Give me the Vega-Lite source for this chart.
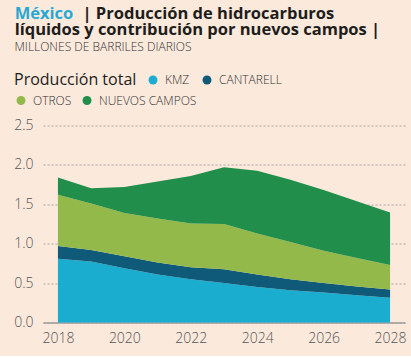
{
  "$schema": "https://vega.github.io/schema/vega-lite/v6.json",
  "width": 362,
  "height": 197,
  "padding": {"left": 13, "top": 5.5, "right": 6, "bottom": 10},
  "background": "#fbe9dc",
  "config": {"view": {"stroke": null}, "font": "Open Sans"},
  "title": {
    "text": "México",
    "subtitle": "líquidos y contribución por nuevos campos |",
    "anchor": "start",
    "frame": "bounds",
    "font": "Open Sans",
    "fontSize": 16.5,
    "fontWeight": "bold",
    "color": "#29a8d4",
    "subtitleFont": "Open Sans",
    "subtitleFontSize": 16.5,
    "subtitleFontWeight": "bold",
    "subtitleColor": "#1d1d1b",
    "subtitlePadding": -0.5,
    "offset": -32.5,
    "dx": 1
  },
  "data": {
    "values": [
      {"anio": 2018, "serie": "KMZ", "orden": 1, "valor": 0.81},
      {"anio": 2019, "serie": "KMZ", "orden": 1, "valor": 0.775},
      {"anio": 2020, "serie": "KMZ", "orden": 1, "valor": 0.69},
      {"anio": 2021, "serie": "KMZ", "orden": 1, "valor": 0.61},
      {"anio": 2022, "serie": "KMZ", "orden": 1, "valor": 0.55},
      {"anio": 2023, "serie": "KMZ", "orden": 1, "valor": 0.5},
      {"anio": 2024, "serie": "KMZ", "orden": 1, "valor": 0.45},
      {"anio": 2025, "serie": "KMZ", "orden": 1, "valor": 0.41},
      {"anio": 2026, "serie": "KMZ", "orden": 1, "valor": 0.38},
      {"anio": 2027, "serie": "KMZ", "orden": 1, "valor": 0.347},
      {"anio": 2028, "serie": "KMZ", "orden": 1, "valor": 0.313},
      {"anio": 2018, "serie": "CANTARELL", "orden": 2, "valor": 0.16},
      {"anio": 2019, "serie": "CANTARELL", "orden": 2, "valor": 0.145},
      {"anio": 2020, "serie": "CANTARELL", "orden": 2, "valor": 0.15},
      {"anio": 2021, "serie": "CANTARELL", "orden": 2, "valor": 0.15},
      {"anio": 2022, "serie": "CANTARELL", "orden": 2, "valor": 0.15},
      {"anio": 2023, "serie": "CANTARELL", "orden": 2, "valor": 0.175},
      {"anio": 2024, "serie": "CANTARELL", "orden": 2, "valor": 0.16},
      {"anio": 2025, "serie": "CANTARELL", "orden": 2, "valor": 0.14},
      {"anio": 2026, "serie": "CANTARELL", "orden": 2, "valor": 0.12},
      {"anio": 2027, "serie": "CANTARELL", "orden": 2, "valor": 0.11},
      {"anio": 2028, "serie": "CANTARELL", "orden": 2, "valor": 0.107},
      {"anio": 2018, "serie": "OTROS", "orden": 3, "valor": 0.65},
      {"anio": 2019, "serie": "OTROS", "orden": 3, "valor": 0.59},
      {"anio": 2020, "serie": "OTROS", "orden": 3, "valor": 0.55},
      {"anio": 2021, "serie": "OTROS", "orden": 3, "valor": 0.56},
      {"anio": 2022, "serie": "OTROS", "orden": 3, "valor": 0.556},
      {"anio": 2023, "serie": "OTROS", "orden": 3, "valor": 0.575},
      {"anio": 2024, "serie": "OTROS", "orden": 3, "valor": 0.52},
      {"anio": 2025, "serie": "OTROS", "orden": 3, "valor": 0.47},
      {"anio": 2026, "serie": "OTROS", "orden": 3, "valor": 0.41},
      {"anio": 2027, "serie": "OTROS", "orden": 3, "valor": 0.363},
      {"anio": 2028, "serie": "OTROS", "orden": 3, "valor": 0.31},
      {"anio": 2018, "serie": "NUEVOS CAMPOS", "orden": 4, "valor": 0.22},
      {"anio": 2019, "serie": "NUEVOS CAMPOS", "orden": 4, "valor": 0.195},
      {"anio": 2020, "serie": "NUEVOS CAMPOS", "orden": 4, "valor": 0.33},
      {"anio": 2021, "serie": "NUEVOS CAMPOS", "orden": 4, "valor": 0.47},
      {"anio": 2022, "serie": "NUEVOS CAMPOS", "orden": 4, "valor": 0.604},
      {"anio": 2023, "serie": "NUEVOS CAMPOS", "orden": 4, "valor": 0.72},
      {"anio": 2024, "serie": "NUEVOS CAMPOS", "orden": 4, "valor": 0.795},
      {"anio": 2025, "serie": "NUEVOS CAMPOS", "orden": 4, "valor": 0.79},
      {"anio": 2026, "serie": "NUEVOS CAMPOS", "orden": 4, "valor": 0.77},
      {"anio": 2027, "serie": "NUEVOS CAMPOS", "orden": 4, "valor": 0.72},
      {"anio": 2028, "serie": "NUEVOS CAMPOS", "orden": 4, "valor": 0.665}
    ]
  },
  "resolve": {"axis": {"x": "independent"}},
  "layer": [
    {
      "mark": {"type": "area"},
      "encoding": {
        "x": {
          "field": "anio",
          "type": "quantitative",
          "scale": {"domain": [2017.55, 2028.45], "nice": false, "zero": false},
          "axis": {
            "title": null,
            "orient": "bottom",
            "values": [2018, 2020, 2022, 2024, 2026, 2028],
            "format": "d",
            "grid": false,
            "ticks": false,
            "domain": true,
            "domainColor": "#9b9b9b",
            "domainWidth": 1.5,
            "labelFont": "Open Sans",
            "labelFontSize": 14,
            "labelFontWeight": 300,
            "labelColor": "#555555",
            "labelPadding": 9
          }
        },
        "y": {
          "field": "valor",
          "type": "quantitative",
          "stack": "zero",
          "scale": {"domain": [0, 2.5], "nice": false},
          "axis": {
            "title": "MILLONES DE BARRILES DIARIOS",
            "titleAngle": 0,
            "titleAlign": "left",
            "titleBaseline": "alphabetic",
            "titleX": -29,
            "titleY": -74.7,
            "titleFont": "Open Sans",
            "titleFontSize": 12,
            "titleFontWeight": 300,
            "titleColor": "#333333",
            "values": [0, 0.5, 1, 1.5, 2, 2.5],
            "format": ".1f",
            "domain": false,
            "ticks": false,
            "grid": true,
            "gridColor": "#a8a8a8",
            "gridDash": [2, 2],
            "gridWidth": 1,
            "labelFont": "Open Sans",
            "labelFontSize": 14,
            "labelFontWeight": 300,
            "labelColor": "#555555",
            "labelPadding": 10
          }
        },
        "order": {"field": "orden", "type": "quantitative", "sort": "ascending"},
        "fill": {
          "field": "serie",
          "type": "nominal",
          "scale": {
            "domain": ["KMZ", "CANTARELL", "OTROS", "NUEVOS CAMPOS"],
            "range": ["#1badd0", "#0f5a78", "#94b94b", "#218f4b"]
          },
          "legend": {
            "title": "Producción total",
            "values": ["KMZ", "CANTARELL"],
            "orient": "none",
            "legendX": -29,
            "legendY": -51.5,
            "direction": "horizontal",
            "titleOrient": "left",
            "titleFont": "Open Sans",
            "titleFontSize": 16,
            "titleFontWeight": "normal",
            "titleColor": "#1d1d1b",
            "titlePadding": 10,
            "titleAnchor": "middle",
            "titleBaseline": "middle",
            "symbolType": "circle",
            "symbolSize": 80,
            "symbolStrokeWidth": 0,
            "labelFont": "Open Sans",
            "labelFontSize": 12,
            "labelFontWeight": 300,
            "labelColor": "#333333",
            "labelOffset": 6,
            "columnPadding": 11,
            "padding": 0
          }
        }
      }
    },
    {
      "transform": [{"filter": {"field": "serie", "oneOf": ["OTROS", "NUEVOS CAMPOS"]}}],
      "mark": {"type": "circle", "opacity": 0},
      "encoding": {
        "x": {
          "field": "anio",
          "type": "quantitative",
          "axis": {
            "orient": "top",
            "title": "| Producción de hidrocarburos",
            "titleAngle": 0,
            "titleAlign": "left",
            "titleBaseline": "alphabetic",
            "titleX": 39,
            "titleY": -106.7,
            "titleFont": "Open Sans",
            "titleFontSize": 16.5,
            "titleFontWeight": "bold",
            "titleColor": "#1d1d1b",
            "labels": false,
            "ticks": false,
            "domain": false,
            "grid": false
          }
        },
        "color": {
          "field": "serie",
          "type": "nominal",
          "scale": {
            "domain": ["OTROS", "NUEVOS CAMPOS"],
            "range": ["#94b94b", "#218f4b"]
          },
          "legend": {
            "title": null,
            "orient": "none",
            "legendX": -28,
            "legendY": -31,
            "direction": "horizontal",
            "symbolType": "circle",
            "symbolSize": 80,
            "symbolOpacity": 1,
            "symbolStrokeWidth": 0,
            "labelFont": "Open Sans",
            "labelFontSize": 12,
            "labelFontWeight": 300,
            "labelColor": "#333333",
            "labelOffset": 6,
            "columnPadding": 9,
            "padding": 0
          }
        }
      }
    }
  ]
}
